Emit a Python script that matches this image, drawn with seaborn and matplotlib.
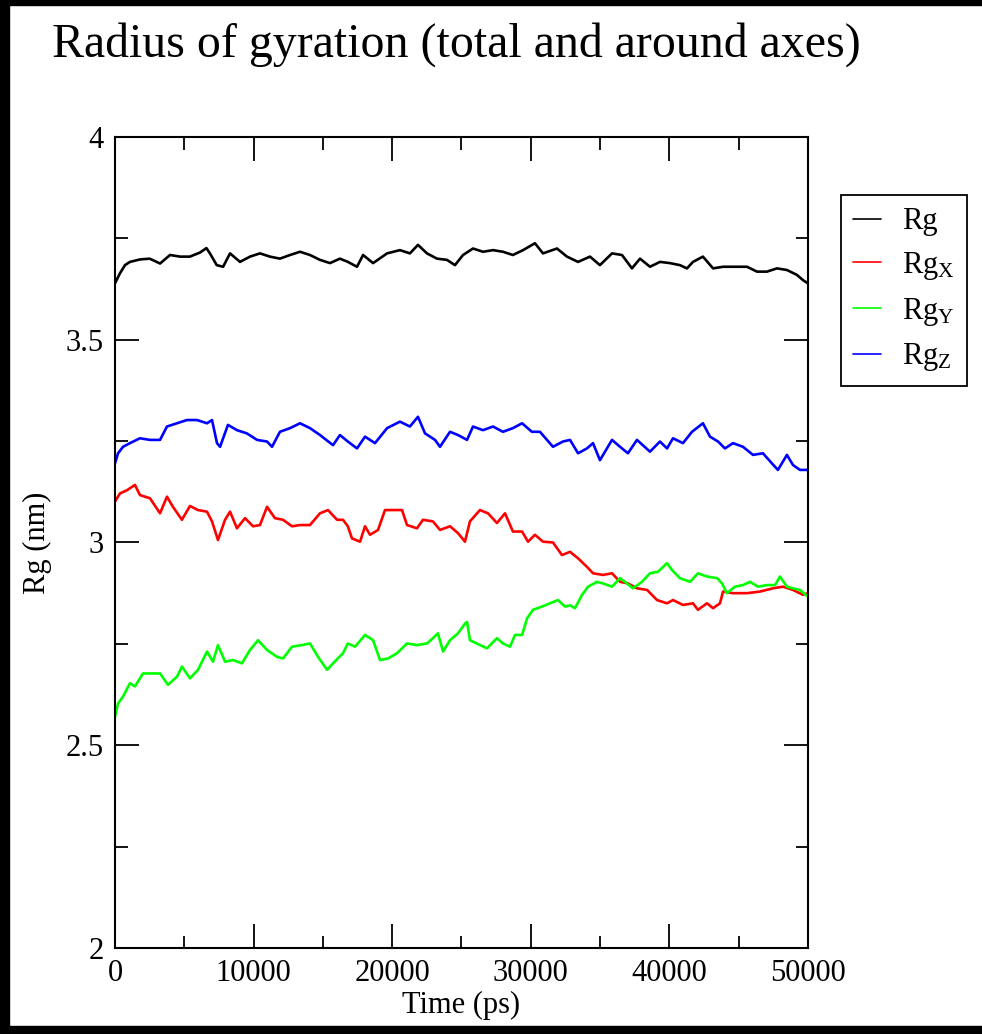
import numpy as np
import pandas as pd
import matplotlib
matplotlib.use("Agg")
import matplotlib.pyplot as plt
from matplotlib.patches import Rectangle
from matplotlib.ticker import MultipleLocator, FormatStrFormatter
import seaborn as sns

# values (time in ps, Rg in nm)
rg_t = [0, 360, 720, 1080, 1800, 2500, 3250, 3970, 4700, 5400, 6130, 6600, 6850, 7340, 7800,
        8300, 9020, 9740, 10460, 11180, 11900, 12630, 13350, 14070, 14790, 15510, 16230, 16800,
        17460, 17900, 18620, 19630, 20560, 21280, 21860, 22510, 23230, 23950, 24530, 25110,
        25830, 26550, 27270, 27990, 28710, 29440, 30300, 30880, 31890, 32610, 33410, 34270,
        34990, 35860, 36580, 37300, 37880, 38600, 39320, 40040, 40760, 41270, 41700, 42420,
        43150, 43870, 44880, 45600, 46320, 47040, 47760, 48480, 49200, 49640, 50000]
rg = [3.639, 3.664, 3.684, 3.692, 3.698, 3.700, 3.688, 3.709, 3.705, 3.705, 3.715, 3.726, 3.713,
      3.684, 3.680, 3.713, 3.692, 3.705, 3.713, 3.705, 3.700, 3.709, 3.717, 3.709, 3.697, 3.689,
      3.700, 3.692, 3.680, 3.709, 3.689, 3.713, 3.721, 3.713, 3.734, 3.713, 3.700, 3.697, 3.684,
      3.709, 3.725, 3.717, 3.721, 3.717, 3.709, 3.721, 3.738, 3.713, 3.725, 3.705, 3.692, 3.705,
      3.684, 3.713, 3.709, 3.676, 3.700, 3.680, 3.692, 3.689, 3.684, 3.676, 3.692, 3.705, 3.676,
      3.680, 3.680, 3.680, 3.668, 3.668, 3.676, 3.672, 3.660, 3.647, 3.639]

rgx_t = [0, 360, 870, 1440, 1800, 2525, 3250, 3750, 4180, 4830, 5410, 5990, 6640, 7000, 7430,
         7940, 8300, 8800, 9380, 9960, 10460, 10970, 11540, 12120, 12770, 13350, 14070, 14790,
         15370, 16020, 16450, 16800, 17100, 17680, 18040, 18400, 18980, 19480, 20060, 20710,
         21070, 21790, 22220, 22940, 23450, 24170, 24750, 25250, 25610, 26330, 26910, 27560,
         28140, 28710, 29370, 29800, 30300, 30880, 31600, 32250, 32830, 33410, 34050, 34490,
         35210, 35860, 36440, 37010, 37660, 38390, 39110, 39830, 40260, 40980, 41700, 42060,
         42710, 43150, 43650, 43870, 44590, 45600, 46540, 47470, 48200, 48920, 49640, 50000]
rgx = [3.101, 3.121, 3.129, 3.142, 3.117, 3.109, 3.072, 3.113, 3.088, 3.056, 3.090, 3.080, 3.076,
       3.052, 3.006, 3.056, 3.076, 3.035, 3.060, 3.040, 3.043, 3.088, 3.060, 3.056, 3.040, 3.043,
       3.043, 3.072, 3.080, 3.056, 3.056, 3.040, 3.010, 3.002, 3.040, 3.019, 3.031, 3.080, 3.080,
       3.080, 3.043, 3.035, 3.056, 3.052, 3.031, 3.040, 3.023, 3.002, 3.052, 3.080, 3.072, 3.048,
       3.072, 3.027, 3.027, 3.002, 3.019, 3.002, 3.000, 2.969, 2.977, 2.961, 2.940, 2.924, 2.920,
       2.924, 2.903, 2.899, 2.887, 2.883, 2.858, 2.850, 2.858, 2.846, 2.850, 2.834, 2.850, 2.838,
       2.850, 2.879, 2.875, 2.875, 2.879, 2.887, 2.891, 2.883, 2.871, 2.875]

rgy_t = [0, 220, 580, 1080, 1440, 2020, 2740, 3250, 3820, 4470, 4830, 5410, 5990, 6640, 7070,
         7430, 7940, 8510, 9160, 9740, 10320, 10970, 11690, 12120, 12770, 13490, 14070, 14650,
         15300, 15730, 16450, 16800, 17320, 18040, 18620, 19120, 19700, 20350, 21070, 21790,
         22510, 22940, 23300, 23670, 24170, 24750, 25250, 25400, 25610, 26330, 26840, 27560,
         27990, 28500, 28860, 29370, 29730, 30160, 30810, 31390, 31960, 32470, 32830, 33190,
         33700, 34130, 34780, 35210, 35860, 36440, 36940, 37370, 38020, 38600, 39180, 39830,
         40190, 40760, 41490, 42060, 42710, 43440, 43800, 44150, 44730, 45310, 45810, 46390,
         47040, 47620, 47980, 48480, 48920, 49420, 50000]
rgy = [2.570, 2.603, 2.620, 2.653, 2.645, 2.677, 2.677, 2.677, 2.649, 2.669, 2.694, 2.665, 2.686,
       2.731, 2.706, 2.747, 2.706, 2.710, 2.702, 2.735, 2.759, 2.735, 2.718, 2.714, 2.743, 2.747,
       2.751, 2.718, 2.686, 2.702, 2.727, 2.751, 2.743, 2.772, 2.759, 2.710, 2.714, 2.727, 2.751,
       2.747, 2.751, 2.764, 2.776, 2.731, 2.759, 2.776, 2.800, 2.804, 2.759, 2.747, 2.739, 2.764,
       2.751, 2.743, 2.772, 2.772, 2.813, 2.834, 2.842, 2.850, 2.858, 2.842, 2.845, 2.838, 2.871,
       2.891, 2.903, 2.899, 2.891, 2.912, 2.899, 2.887, 2.903, 2.924, 2.928, 2.949, 2.932, 2.912,
       2.903, 2.924, 2.916, 2.912, 2.899, 2.875, 2.891, 2.895, 2.903, 2.891, 2.895, 2.895, 2.916,
       2.891, 2.887, 2.883, 2.866]

rgz_t = [0, 220, 580, 1080, 1800, 2525, 3250, 3750, 4470, 5190, 5920, 6640, 7000, 7360, 7580,
         8150, 8800, 9520, 10250, 10970, 11330, 11900, 12630, 13350, 14070, 14790, 15730, 16230,
         16800, 17460, 18040, 18760, 19630, 20560, 21280, 21860, 22370, 23090, 23450, 24170,
         24750, 25400, 25830, 26550, 27270, 27990, 28710, 29370, 30080, 30660, 31600, 32320,
         32830, 33410, 34050, 34490, 34990, 35860, 36440, 37010, 37660, 38600, 39320, 39830,
         40260, 40980, 41630, 42420, 42930, 43510, 44010, 44590, 45310, 46030, 46750, 47400,
         47830, 48480, 48920, 49420, 50000]
rgz = [3.195, 3.220, 3.236, 3.245, 3.257, 3.253, 3.253, 3.286, 3.294, 3.302, 3.302, 3.294, 3.302,
       3.245, 3.236, 3.290, 3.277, 3.269, 3.253, 3.249, 3.236, 3.273, 3.282, 3.294, 3.282, 3.265,
       3.240, 3.265, 3.249, 3.232, 3.261, 3.245, 3.282, 3.298, 3.286, 3.310, 3.269, 3.253, 3.236,
       3.273, 3.265, 3.253, 3.286, 3.277, 3.286, 3.273, 3.282, 3.294, 3.273, 3.273, 3.236, 3.249,
       3.253, 3.220, 3.232, 3.245, 3.203, 3.253, 3.236, 3.220, 3.253, 3.224, 3.249, 3.232, 3.257,
       3.245, 3.273, 3.294, 3.261, 3.249, 3.232, 3.245, 3.236, 3.216, 3.220, 3.195, 3.179, 3.216,
       3.191, 3.179, 3.179]

labels = ["Rg", r"Rg$_\mathrm{X}$", r"Rg$_\mathrm{Y}$", r"Rg$_\mathrm{Z}$"]
colors = ["#000000", "#ff0000", "#00ff00", "#0000ff"]

df = pd.concat([
    pd.DataFrame({"time": t, "rg": v, "series": lab})
    for t, v, lab in zip([rg_t, rgx_t, rgy_t, rgz_t], [rg, rgx, rgy, rgz], labels)
], ignore_index=True)

sns.set_style("ticks")
plt.rcParams["font.family"] = ["Liberation Serif", "DejaVu Serif"]
plt.rcParams["mathtext.fontset"] = "custom"
plt.rcParams["mathtext.rm"] = "Liberation Serif"
plt.rcParams["mathtext.it"] = "Liberation Serif:italic"
plt.rcParams["text.color"] = "black"
plt.rcParams["axes.labelcolor"] = "black"
plt.rcParams["xtick.color"] = "black"
plt.rcParams["ytick.color"] = "black"

fig = plt.figure(figsize=(9.82, 10.34), dpi=100)
ax = fig.add_axes([0.1171, 0.0832, 0.7057, 0.7843])

sns.lineplot(data=df, x="time", y="rg", hue="series", palette=colors,
             estimator=None, sort=False, linewidth=1.9, ax=ax)

ax.set_xlim(0, 50000)
ax.set_ylim(2, 4)
ax.xaxis.set_major_locator(MultipleLocator(10000))
ax.xaxis.set_minor_locator(MultipleLocator(5000))
ax.yaxis.set_major_locator(MultipleLocator(0.5))
ax.yaxis.set_minor_locator(MultipleLocator(0.25))
ax.yaxis.set_major_formatter(FormatStrFormatter("%g"))
ax.tick_params(which="both", direction="in", top=True, right=True,
               labelsize=22, width=1.3, color="black", labelcolor="black")
ax.tick_params(which="major", length=17, pad=8)
ax.tick_params(which="minor", length=9)
for sp in ax.spines.values():
    sp.set_linewidth(1.5)
    sp.set_color("black")

ax.set_xlabel("Time (ps)", fontsize=22, labelpad=2)
ax.set_ylabel("Rg (nm)", fontsize=22, labelpad=10)

handles, labs = ax.get_legend_handles_labels()
leg = ax.legend(handles, labs, loc="upper left", bbox_to_anchor=(1.0476, 0.9285),
                borderaxespad=0, fontsize=22, frameon=True, fancybox=False,
                edgecolor="black", framealpha=1, handlelength=0.9,
                handletextpad=0.7, borderpad=0.4, labelspacing=0.45)
leg.get_frame().set_linewidth(1.3)
for h in leg.get_lines():
    h.set_linewidth(1.2)

fig.text(0.053, 0.945, "Radius of gyration (total and around axes)",
         fontsize=34.5, ha="left", va="baseline")

# black frame around the picture
fig.add_artist(Rectangle((0, 1 - 5 / 1034), 1, 5 / 1034, transform=fig.transFigure,
                         color="black", zorder=10))
fig.add_artist(Rectangle((0, 0), 9 / 982, 1, transform=fig.transFigure,
                         color="black", zorder=10))
fig.add_artist(Rectangle((0, 0), 1, 8 / 1034, transform=fig.transFigure,
                         color="black", zorder=10))

fig.savefig("out.png", dpi=100)
